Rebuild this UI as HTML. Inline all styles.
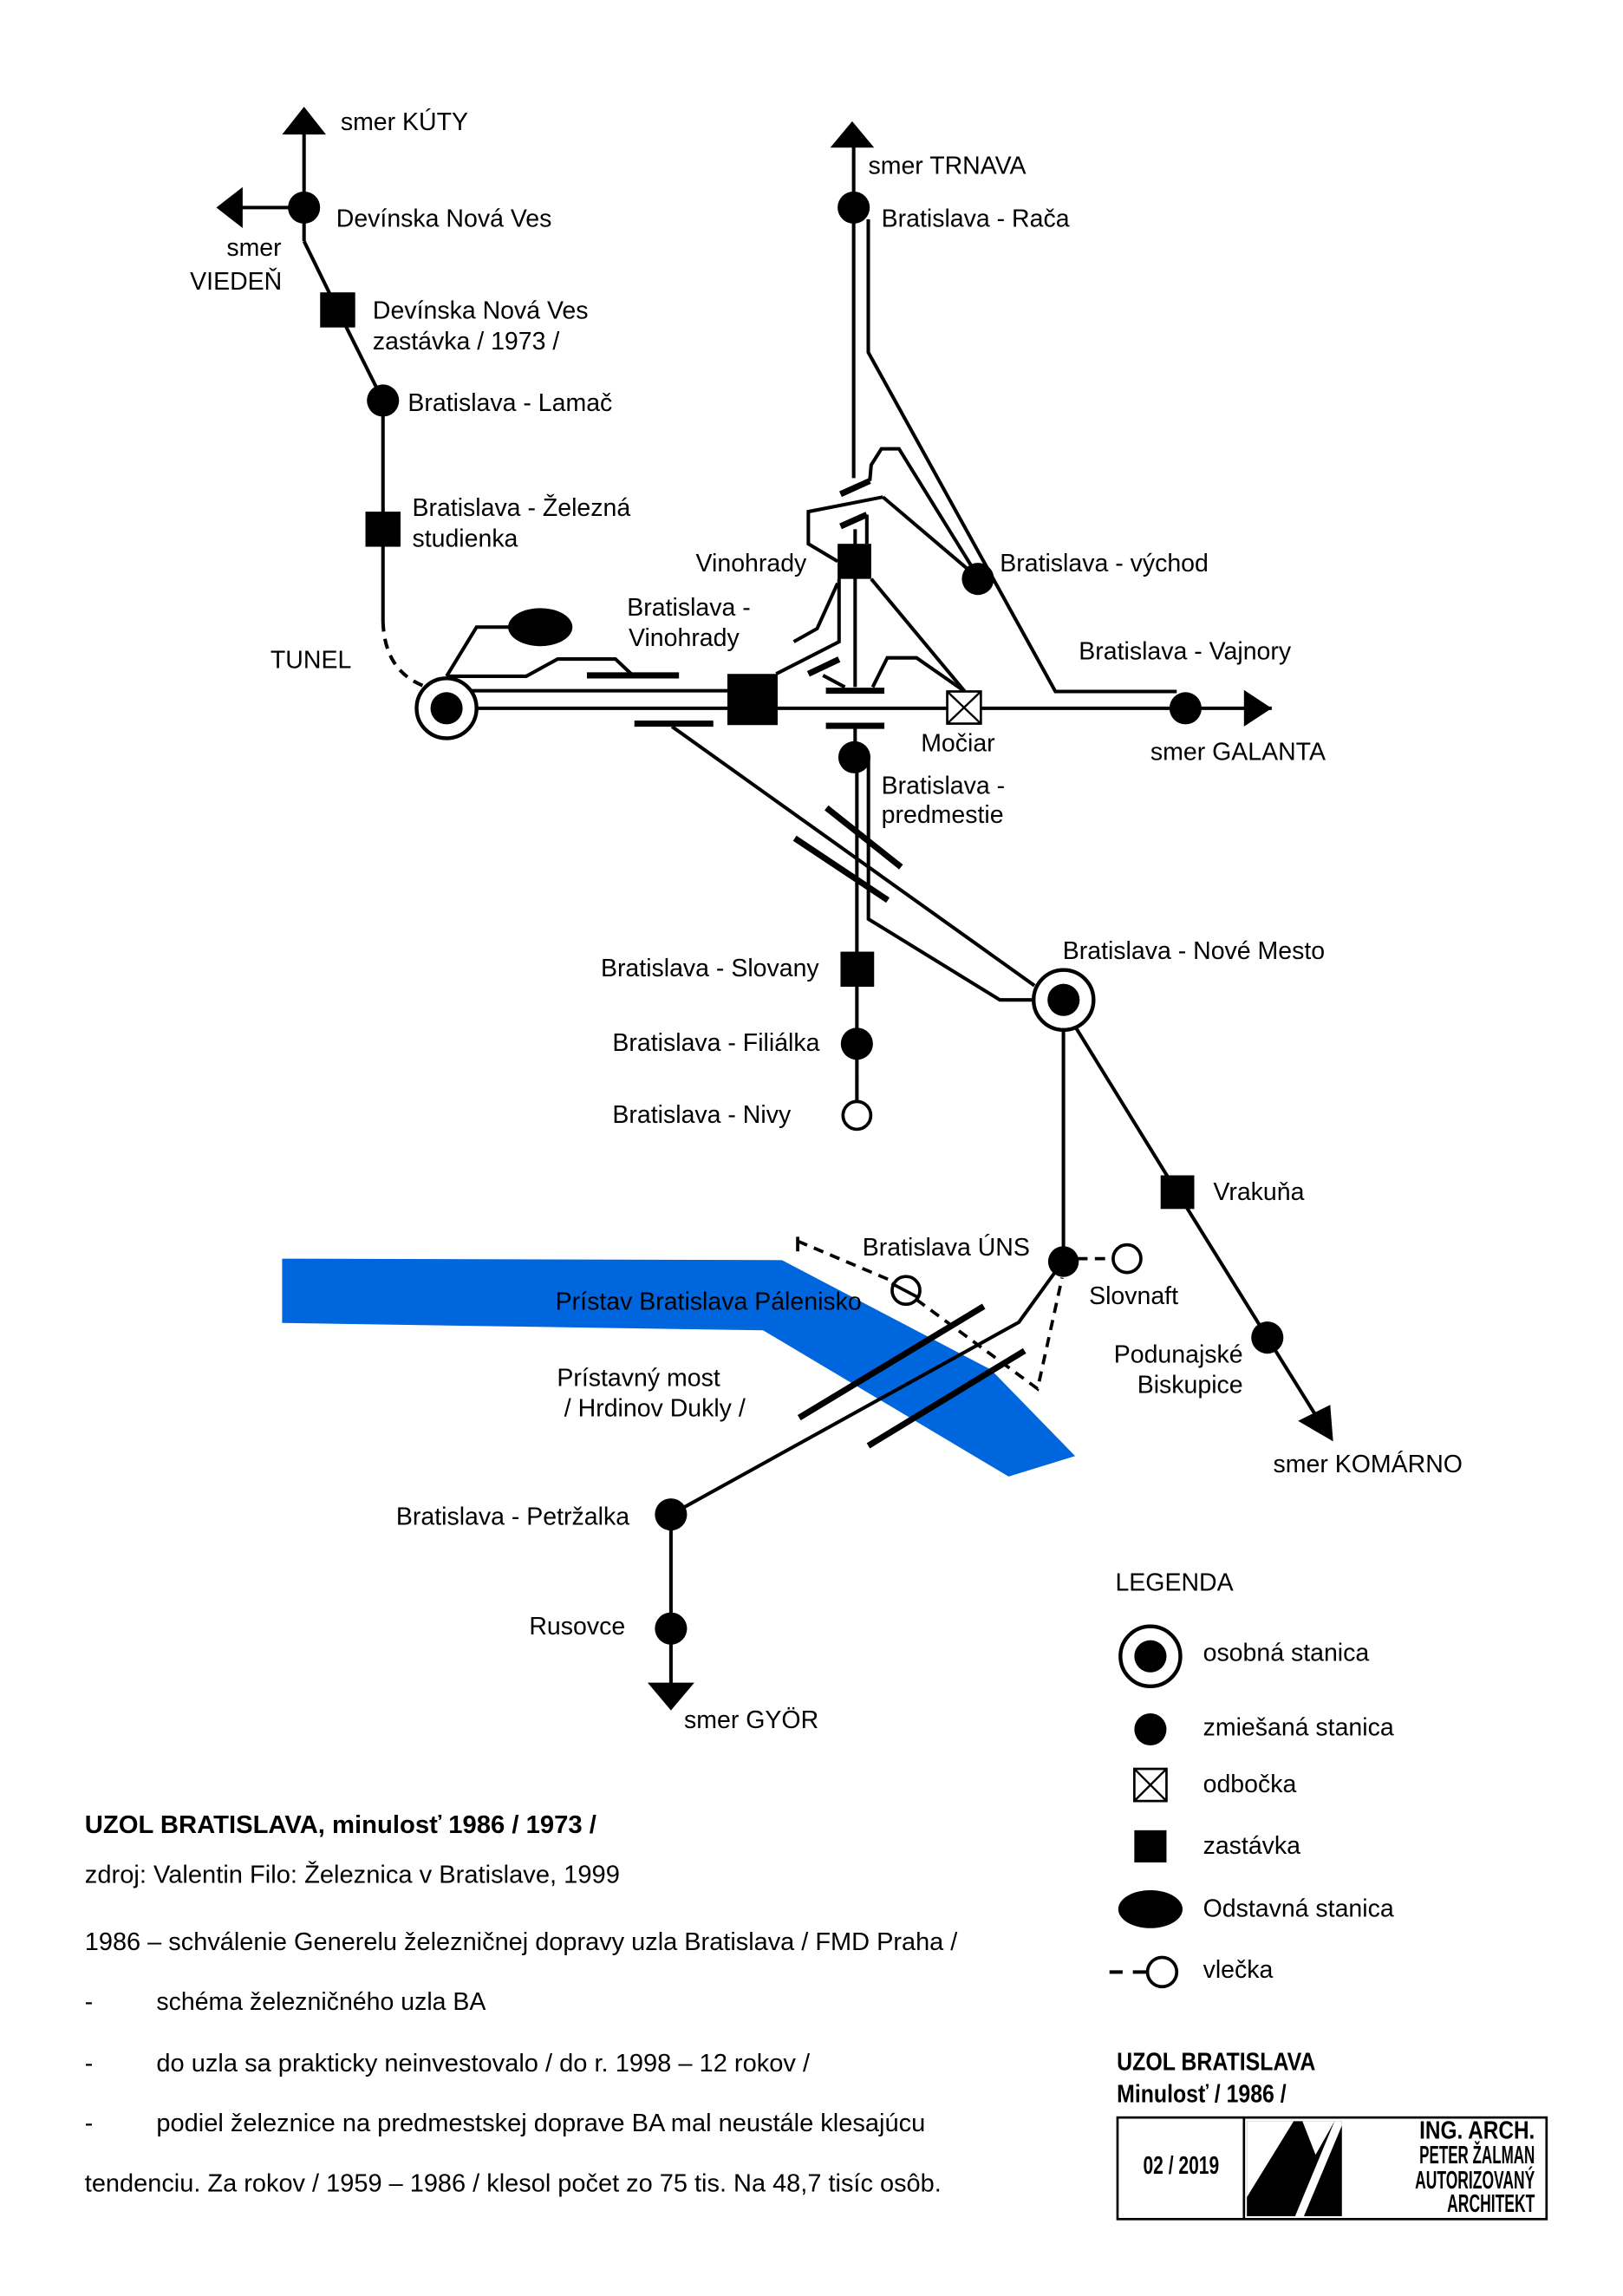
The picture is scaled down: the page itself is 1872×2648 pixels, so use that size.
<!DOCTYPE html>
<html><head><meta charset="utf-8"><style>
html,body{margin:0;padding:0;background:#fff}
svg{display:block}
text{font-family:"Liberation Sans",Arial,sans-serif;font-size:16.9px;fill:#000}
</style></head><body>
<svg width="1872" height="2648" viewBox="0 0 1110.3 1570.6" preserveAspectRatio="none" xmlns="http://www.w3.org/2000/svg">
<rect x="0" y="0" width="1110.3" height="1570.6" fill="#fff"/>
<path d="M193,861 L535,862 L678,937 L735.5,996 L690,1010 L522,910 L193,905 Z" fill="#0066dd"/>

<g stroke="#000" stroke-width="2.4" fill="none" stroke-linejoin="miter">
<line x1="208" y1="90" x2="208" y2="165"/>
<line x1="208" y1="142" x2="164" y2="142"/>
<polyline points="208,165 231,212 262,274 262,425"/>
<path d="M262,425 Q263,460 292,470" stroke-dasharray="7,5"/>
<line x1="318" y1="472.5" x2="498" y2="472.5"/>
<line x1="305" y1="484.5" x2="870" y2="484.5"/>
<polyline points="305.5,462.6 326,429 350,429"/>
<polyline points="305.5,462.6 360,462.6 381.5,450.8 421,450.8 431.6,460.8"/>
<line x1="459.7" y1="497" x2="707.7" y2="674.2"/>
<polyline points="594.1,518 594.1,628.7 684,684 706,684"/>
<line x1="586.2" y1="518" x2="586.2" y2="763"/>
<line x1="584" y1="98" x2="584" y2="327"/>
<polyline points="594,150 594,241 722,473 805,473"/>
<polyline points="595,329 596,318 603,307 615,307 670,396"/>
<polyline points="604,340 553,350 553,372 573,384"/>
<line x1="604" y1="340" x2="664" y2="391"/>
<line x1="585" y1="362" x2="585" y2="470"/>
<line x1="593" y1="352" x2="593" y2="372"/>
<line x1="585" y1="496" x2="585" y2="516"/>
<polyline points="596,396 660,473"/>
<polyline points="597,470 607,450 627,450 660,473"/>
<polyline points="573,399 559,430 543,439"/>
<polyline points="574,396 574,439 531,461"/>
<line x1="563" y1="462" x2="578" y2="470"/>
<line x1="727.5" y1="700" x2="727.5" y2="862"/>
<polyline points="736,703 805,815 867,915 900,968"/>
<polyline points="727,863 697,904.5 459,1036 459,1155"/>
</g>
<g stroke="#000" stroke-width="2.2" fill="none">
<line x1="586.2" y1="724" x2="586.2" y2="753" stroke-dasharray="6,5"/>
<line x1="737" y1="861" x2="761" y2="861" stroke-dasharray="7,5"/>
<line x1="545.7" y1="846" x2="545.7" y2="856"/>
<polyline points="545.7,849 612,877" stroke-dasharray="7,5"/>
<polyline points="627,889 709.8,950 726.6,874" stroke-dasharray="7,5"/>
<circle cx="619.8" cy="882.7" r="9.5" fill="#fff"/>
<line x1="610" y1="878" x2="629" y2="888"/>
<circle cx="771" cy="861" r="9.5" fill="#fff"/>
<circle cx="586.2" cy="763" r="9.5" fill="#fff"/>
</g>
<g stroke="#000" stroke-width="4.2">
<line x1="401.5" y1="462" x2="464.5" y2="462"/>
<line x1="434" y1="495" x2="488" y2="495"/>
<line x1="565" y1="472.5" x2="605" y2="472.5"/>
<line x1="565" y1="496.5" x2="605" y2="496.5"/>
<line x1="575" y1="338" x2="595" y2="329"/>
<line x1="575" y1="360" x2="593" y2="352"/>
<line x1="553" y1="461" x2="574" y2="451"/>
<line x1="565.4" y1="552.6" x2="616.4" y2="593.1"/>
<line x1="543.7" y1="573.4" x2="607.4" y2="615.8"/>
<line x1="546.7" y1="969.8" x2="673" y2="893.6"/>
<line x1="594" y1="989" x2="700.9" y2="924"/>
</g>
<g fill="#000">
<polygon points="208,73 193,92 223,92"/>
<polygon points="148,142 166,128 166,156"/>
<polygon points="583,83 568,101 598,101"/>
<polygon points="870,484.5 851,472 851,497"/>
<polygon points="912,986 888,972 910,961"/>
<polygon points="459,1170 443,1151 475,1151"/>
</g>
<g fill="#000">
<circle cx="208" cy="142" r="11"/>
<rect x="219" y="200" width="24" height="24"/>
<circle cx="262" cy="274" r="11"/>
<rect x="250" y="350" width="24" height="24"/>
<ellipse cx="369.6" cy="429" rx="22" ry="13"/>
<rect x="497.6" y="461" width="34.4" height="35"/>
<circle cx="584" cy="142" r="11"/>
<rect x="573" y="372" width="23" height="24"/>
<circle cx="669" cy="396" r="11"/>
<circle cx="811" cy="484.5" r="11"/>
<circle cx="584.5" cy="518" r="11"/>
<rect x="575" y="651" width="23" height="24"/>
<circle cx="586.2" cy="714" r="11"/>
<rect x="794" y="804" width="23" height="23"/>
<circle cx="727.5" cy="863" r="10.5"/>
<circle cx="867" cy="915" r="11"/>
<circle cx="459" cy="1036" r="11"/>
<circle cx="459" cy="1114" r="11"/>
</g>
<rect x="648" y="473" width="23" height="22" fill="#fff" stroke="#000" stroke-width="1.6"/>
<path d="M648,473 L671,495 M671,473 L648,495" stroke="#000" stroke-width="1.4"/>
<circle cx="305.5" cy="484.5" r="20.5" fill="#fff" stroke="#000" stroke-width="2.6"/>
<circle cx="305.5" cy="484.5" r="11" fill="#000"/>
<circle cx="727.6" cy="684" r="20.5" fill="#fff" stroke="#000" stroke-width="2.6"/>
<circle cx="727.6" cy="684" r="11" fill="#000"/>

<text x="233" y="89">smer KÚTY</text>
<text x="230" y="155">Devínska Nová Ves</text>
<text x="155" y="175">smer</text>
<text x="130" y="198">VIEDEŇ</text>
<text x="255" y="218">Devínska Nová Ves</text>
<text x="255" y="239">zastávka / 1973 /</text>
<text x="279" y="281">Bratislava - Lamač</text>
<text x="282" y="353">Bratislava - Železná</text>
<text x="282" y="374">studienka</text>
<text x="185" y="457">TUNEL</text>
<text x="594" y="119">smer TRNAVA</text>
<text x="603" y="155">Bratislava - Rača</text>
<text x="684" y="391">Bratislava - východ</text>
<text x="476" y="391">Vinohrady</text>
<text x="429" y="421">Bratislava -</text>
<text x="430" y="442">Vinohrady</text>
<text x="738" y="451">Bratislava - Vajnory</text>
<text x="630" y="514">Močiar</text>
<text x="787" y="520">smer GALANTA</text>
<text x="603" y="543">Bratislava -</text>
<text x="603" y="563">predmestie</text>
<text x="727" y="656">Bratislava - Nové Mesto</text>
<text x="411" y="668">Bratislava - Slovany</text>
<text x="419" y="719">Bratislava - Filiálka</text>
<text x="419" y="768">Bratislava - Nivy</text>
<text x="830" y="821">Vrakuňa</text>
<text x="590" y="859">Bratislava ÚNS</text>
<text x="380" y="896">Prístav Bratislava Pálenisko</text>
<text x="745" y="892">Slovnaft</text>
<text x="762" y="932">Podunajské</text>
<text x="778" y="953">Biskupice</text>
<text x="381" y="948">Prístavný most</text>
<text x="386" y="969">/ Hrdinov Dukly /</text>
<text x="871" y="1007">smer KOMÁRNO</text>
<text x="271" y="1043">Bratislava - Petržalka</text>
<text x="362" y="1118">Rusovce</text>
<text x="468" y="1182">smer GYÖR</text>

<text x="763" y="1088">LEGENDA</text>
<circle cx="787" cy="1133" r="20.5" fill="#fff" stroke="#000" stroke-width="2.6"/>
<circle cx="787" cy="1133" r="11" fill="#000"/>
<text x="823" y="1136">osobná stanica</text>
<circle cx="787" cy="1183" r="11" fill="#000"/>
<text x="823" y="1187">zmiešaná stanica</text>
<rect x="776" y="1210" width="22" height="22" fill="#fff" stroke="#000" stroke-width="1.6"/>
<path d="M776,1210 L798,1232 M798,1210 L776,1232" stroke="#000" stroke-width="1.4"/>
<text x="823" y="1226">odbočka</text>
<rect x="776" y="1252" width="22" height="22" fill="#000"/>
<text x="823" y="1268">zastávka</text>
<ellipse cx="787" cy="1306" rx="22" ry="13" fill="#000"/>
<text x="823" y="1311">Odstavná stanica</text>
<line x1="759" y1="1349" x2="768" y2="1349" stroke="#000" stroke-width="2.4"/>
<line x1="775" y1="1349" x2="785" y2="1349" stroke="#000" stroke-width="2.4"/>
<circle cx="795" cy="1349" r="10" fill="#fff" stroke="#000" stroke-width="2.2"/>
<text x="823" y="1353">vlečka</text>

<text x="58" y="1254" font-weight="bold" textLength="350" lengthAdjust="spacingAndGlyphs">UZOL BRATISLAVA, minulosť 1986 / 1973 /</text>
<text x="58" y="1288" textLength="366" lengthAdjust="spacingAndGlyphs">zdroj: Valentin Filo: Železnica v Bratislave, 1999</text>
<text x="58" y="1334" textLength="597" lengthAdjust="spacingAndGlyphs">1986 – schválenie Generelu železničnej dopravy uzla Bratislava / FMD Praha /</text>
<text x="58" y="1375">-</text><text x="107" y="1375">schéma železničného uzla BA</text>
<text x="58" y="1417">-</text><text x="107" y="1417" textLength="447" lengthAdjust="spacingAndGlyphs">do uzla sa prakticky neinvestovalo / do r. 1998 – 12 rokov /</text>
<text x="58" y="1458">-</text><text x="107" y="1458" textLength="526" lengthAdjust="spacingAndGlyphs">podiel železnice na predmestskej doprave BA mal neustále klesajúcu</text>
<text x="58" y="1499" textLength="586" lengthAdjust="spacingAndGlyphs">tendenciu. Za rokov / 1959 – 1986 / klesol počet zo 75 tis. Na 48,7 tisíc osôb.</text>

<text x="764" y="1416" font-weight="bold" font-size="19" textLength="136" lengthAdjust="spacingAndGlyphs">UZOL BRATISLAVA</text>
<text x="764" y="1438" font-weight="bold" font-size="16" textLength="116" lengthAdjust="spacingAndGlyphs">Minulosť / 1986 /</text>
<rect x="764.5" y="1448.5" width="293.5" height="69.5" fill="none" stroke="#000" stroke-width="1.6"/>
<line x1="851" y1="1448.5" x2="851" y2="1518" stroke="#000" stroke-width="1.6"/>
<text x="808" y="1487" font-weight="bold" font-size="12" text-anchor="middle" textLength="52" lengthAdjust="spacingAndGlyphs">02 / 2019</text>
<g transform="translate(853,1451)">
<rect x="0" y="0" width="65" height="65" fill="#000"/>
<polygon points="0,0 32,0 0,52" fill="#fff"/>
<polygon points="38,0 60,0 47,23" fill="#fff"/>
<polygon points="60,0 65,0 65,3 39,65 33,65" fill="#fff"/>
</g>
<g font-weight="bold">
<text x="971" y="1463" font-size="11.5" textLength="79" lengthAdjust="spacingAndGlyphs">ING.  ARCH.</text>
<text x="971" y="1480" font-size="11.5" textLength="79" lengthAdjust="spacingAndGlyphs">PETER  ŽALMAN</text>
<text x="968" y="1497" font-size="11.5" textLength="82" lengthAdjust="spacingAndGlyphs">AUTORIZOVANÝ</text>
<text x="990" y="1513" font-size="11.5" textLength="60" lengthAdjust="spacingAndGlyphs">ARCHITEKT</text>
</g>
</svg>
</body></html>
